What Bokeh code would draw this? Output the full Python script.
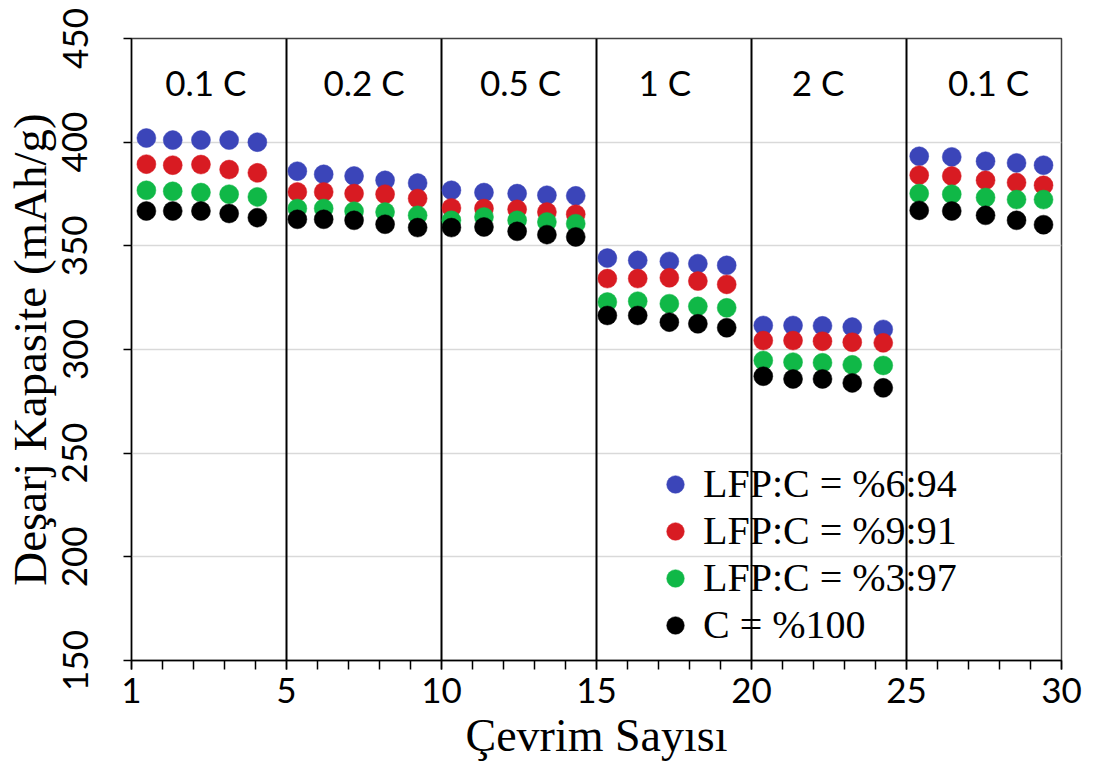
import math

from bokeh.core.properties import value
from bokeh.embed import file_html
from bokeh.models import FixedTicker, Legend, LegendItem, Range1d
from bokeh.plotting import figure
from bokeh.resources import INLINE

# Cycle positions of the measurements (5 cycles per C-rate step)
cycle = [0.48, 1.33, 2.24, 3.15, 4.06,
         5.35, 6.20, 7.18, 8.18, 9.23,
         10.32, 11.37, 12.44, 13.40, 14.33,
         15.35, 16.33, 17.35, 18.27, 19.20,
         20.38, 21.34, 22.29, 23.25, 24.25,
         25.41, 26.46, 27.55, 28.55, 29.42]

# Discharge capacities (mAh/g)
lfp_6_94 = [402, 401, 401, 401, 400,
            386, 384.5, 383.7, 381.6, 380.3,
            376.8, 375.7, 375.2, 374.4, 374.1,
            344.1, 343.0, 342.5, 341.4, 340.6,
            311.6, 311.6, 311.4, 310.8, 309.7,
            393.2, 392.9, 390.8, 390.0, 388.9]
lfp_9_91 = [389.4, 388.9, 389.2, 386.8, 385.2,
            376.0, 376.0, 375.2, 374.9, 372.8,
            368.3, 368.0, 367.6, 366.3, 365.2,
            334.2, 334.2, 334.6, 333.0, 331.4,
            304.3, 304.3, 304.0, 303.5, 303.2,
            384.1, 383.7, 381.6, 380.5, 379.2]
lfp_3_97 = [376.8, 376.3, 375.7, 374.9, 373.6,
            368.0, 368.0, 366.7, 366.3, 364.7,
            362.3, 363.9, 362.3, 361.5, 360.7,
            322.9, 323.3, 322.1, 320.8, 320.1,
            294.7, 293.9, 293.6, 292.6, 292.3,
            375.2, 374.9, 373.3, 372.3, 372.3]
c_100 = [366.8, 366.8, 366.8, 365.6, 363.6,
         362.8, 362.8, 362.3, 360.4, 358.8,
         358.8, 359.1, 357.0, 355.4, 354.3,
         316.4, 316.4, 313.2, 312.4, 310.5,
         287.1, 285.8, 285.8, 283.9, 281.5,
         367.1, 366.8, 364.7, 362.3, 360.2]

series_names = ["LFP:C = %6:94", "LFP:C = %9:91", "LFP:C = %3:97", "C = %100"]
series_colors = ["#3B45B9", "#D81B22", "#10B847", "#000000"]

# C-rate steps and the boundaries between them
rate_labels = ["0.1 C", "0.2 C", "0.5 C", "1 C", "2 C", "0.1 C"]
rate_label_x = [2.4, 7.5, 12.55, 17.2, 22.15, 27.65]
rate_label_y = 429
rate_bounds = [5, 10, 15, 20, 25]

x_ticks = [0, 5, 10, 15, 20, 25, 30]
x_tick_labels = {0: "1", 5: "5", 10: "10", 15: "15", 20: "20", 25: "25", 30: "30"}
x_minor = list(range(0, 31))
y_ticks = [150, 200, 250, 300, 350, 400, 450]

p = figure(width=1096, height=771,
           x_range=Range1d(0, 30), y_range=Range1d(150, 450),
           output_backend="svg", toolbar_location=None,
           min_border_left=130, min_border_right=35,
           min_border_top=38, min_border_bottom=111)

p.background_fill_color = "white"
p.border_fill_color = "white"
p.outline_line_color = "#404040"
p.outline_line_width = 1.5

# grid
p.xgrid.visible = False
p.ygrid.ticker = FixedTicker(ticks=y_ticks)
p.ygrid.grid_line_color = "#D9D9D9"
p.ygrid.grid_line_width = 1.5

# x axis
xa = p.xaxis[0]
xa.ticker = FixedTicker(ticks=x_ticks, minor_ticks=x_minor)
xa.major_label_overrides = x_tick_labels
xa.axis_line_color = "black"
xa.axis_line_width = 1.5
xa.major_tick_line_color = "black"
xa.major_tick_line_width = 1.5
xa.major_tick_out = 9
xa.major_tick_in = 0
xa.minor_tick_line_color = "black"
xa.minor_tick_line_width = 1.5
xa.minor_tick_out = 9
xa.minor_tick_in = 0
xa.major_label_text_font = "Lato"
xa.major_label_text_font_size = "35px"
xa.major_label_text_color = "black"
xa.major_label_standoff = 8
xa.axis_label = "Çevrim Sayısı"
xa.axis_label_text_font = "Liberation Serif"
xa.axis_label_text_font_size = "46px"
xa.axis_label_text_font_style = "normal"
xa.axis_label_text_color = "black"
xa.axis_label_standoff = 4

# y axis
ya = p.yaxis[0]
ya.ticker = FixedTicker(ticks=y_ticks)
ya.axis_line_color = "black"
ya.axis_line_width = 1.5
ya.major_tick_line_color = "black"
ya.major_tick_line_width = 1.5
ya.major_tick_out = 8
ya.major_tick_in = 0
ya.minor_tick_line_color = None
ya.major_label_orientation = "parallel"
ya.major_label_text_font = "Lato"
ya.major_label_text_font_size = "35px"
ya.major_label_text_color = "black"
ya.major_label_standoff = 36
ya.axis_label = "Deşarj Kapasite (mAh/g)"
ya.axis_label_text_font = "Liberation Serif"
ya.axis_label_text_font_size = "47px"
ya.axis_label_text_font_style = "normal"
ya.axis_label_text_color = "black"
ya.axis_label_standoff = 4

# separators between C-rate steps
p.segment(x0=rate_bounds, y0=150, x1=rate_bounds, y1=450,
          line_color="black", line_width=2)

# C-rate labels
p.text(x=rate_label_x, y=[rate_label_y] * len(rate_labels), text=rate_labels,
       text_font=value("Lato"), text_font_size="35px", text_color="black",
       text_align="center", text_baseline="middle")

# data series
renderers = []
for ys, color in zip([lfp_6_94, lfp_9_91, lfp_3_97, c_100], series_colors):
    r = p.scatter(x=cycle, y=ys, size=19, marker="circle",
                  fill_color=color, line_color=color, line_width=0.5)
    renderers.append(r)

legend = Legend(items=[LegendItem(label=n, renderers=[r])
                       for n, r in zip(series_names, renderers)],
                location=(520, 12))
legend.label_text_font = "Liberation Serif"
legend.label_text_font_size = "40px"
legend.label_text_line_height = 1.0
legend.label_text_color = "black"
legend.glyph_width = 48
legend.glyph_height = 44
legend.label_height = 44
legend.label_standoff = 4
legend.spacing = 0
legend.padding = 0
legend.margin = 0
legend.border_line_color = None
legend.background_fill_alpha = 0
p.add_layout(legend)

open("out.html", "w").write(file_html(p, INLINE))
